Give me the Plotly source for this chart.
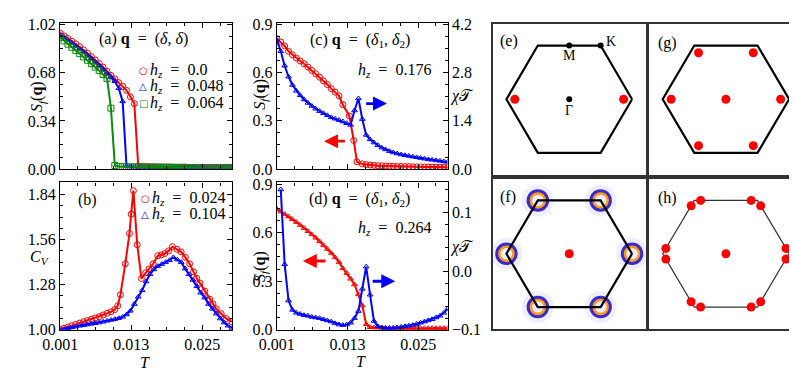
import plotly.graph_objects as go

# temperature grid shared by most curves
T = [0.00100, 0.00166, 0.00232, 0.00298, 0.00364, 0.00430, 0.00495, 0.00561, 0.00627,
     0.00693, 0.00759, 0.00825, 0.00891, 0.00957, 0.01023, 0.01089, 0.01155, 0.01220,
     0.01286, 0.01352, 0.01418, 0.01484, 0.01550, 0.01616, 0.01682, 0.01748, 0.01814,
     0.01880, 0.01945, 0.02011, 0.02077, 0.02143, 0.02209, 0.02275, 0.02341, 0.02407,
     0.02473, 0.02539, 0.02605, 0.02670, 0.02736, 0.02802, 0.02868, 0.02934, 0.03000]

# (a) S_f(q), q=(delta,delta)
sf_a_h000 = [0.960, 0.940, 0.922, 0.903, 0.884, 0.864, 0.842, 0.818, 0.794, 0.770, 0.745,
             0.720, 0.690, 0.662, 0.636, 0.610, 0.585, 0.556, 0.510, 0.462, 0.022, 0.018,
             0.017, 0.016, 0.016, 0.015, 0.015, 0.014, 0.014, 0.014, 0.013, 0.013, 0.013,
             0.012, 0.012, 0.012, 0.012, 0.011, 0.011, 0.011, 0.011, 0.010, 0.010, 0.010, 0.010]
sf_a_h048 = [0.952, 0.932, 0.913, 0.893, 0.873, 0.852, 0.830, 0.806, 0.782, 0.757, 0.732,
             0.707, 0.678, 0.650, 0.620, 0.570, 0.478, 0.022, 0.018, 0.017, 0.016, 0.016,
             0.015, 0.015, 0.015, 0.014, 0.014, 0.014, 0.013, 0.013, 0.013, 0.012, 0.012,
             0.012, 0.012, 0.011, 0.011, 0.011, 0.011, 0.010, 0.010, 0.010, 0.010, 0.010, 0.010]
sf_a_h064 = [0.930, 0.905, 0.882, 0.860, 0.838, 0.815, 0.792, 0.768, 0.744, 0.720, 0.695,
             0.668, 0.640, 0.430, 0.025, 0.018, 0.017, 0.016, 0.016, 0.015, 0.015, 0.015,
             0.014, 0.014, 0.014, 0.013, 0.013, 0.013, 0.013, 0.012, 0.012, 0.012, 0.012,
             0.011, 0.011, 0.011, 0.011, 0.011, 0.010, 0.010, 0.010, 0.010, 0.010, 0.010, 0.010]

# (b) C_V
T_b_h024 = [0.00100, 0.00166, 0.00232, 0.00298, 0.00364, 0.00430, 0.00495, 0.00561, 0.00627,
            0.00693, 0.00759, 0.00825, 0.00891, 0.00957, 0.01023, 0.01072, 0.01117, 0.01199,
            0.01270, 0.01298, 0.01336, 0.01401, 0.01472, 0.01545, 0.01599, 0.01670, 0.01747,
            0.01807, 0.01867, 0.01930, 0.01994, 0.02070, 0.02142, 0.02213, 0.02285, 0.02351,
            0.02405, 0.02460, 0.02542, 0.02625, 0.02680, 0.02735, 0.02818, 0.02900, 0.03000]
cv_b_h024 = [1.004, 1.010, 1.018, 1.026, 1.034, 1.042, 1.050, 1.058, 1.066, 1.074, 1.082,
             1.092, 1.102, 1.112, 1.126, 1.150, 1.218, 1.410, 1.598, 1.718, 1.864, 1.528,
             1.318, 1.354, 1.378, 1.410, 1.460, 1.465, 1.474, 1.490, 1.516, 1.500, 1.484,
             1.450, 1.410, 1.360, 1.320, 1.290, 1.240, 1.190, 1.160, 1.130, 1.100, 1.070, 1.050]
cv_b_h104 = [1.000, 1.004, 1.010, 1.015, 1.020, 1.025, 1.029, 1.033, 1.037, 1.041, 1.045,
             1.050, 1.056, 1.061, 1.066, 1.072, 1.080, 1.095, 1.118, 1.160, 1.205, 1.245,
             1.300, 1.345, 1.375, 1.395, 1.408, 1.420, 1.432, 1.450, 1.436, 1.420, 1.380,
             1.345, 1.310, 1.270, 1.230, 1.200, 1.160, 1.130, 1.100, 1.070, 1.045, 1.025, 1.010]

# (c) h_z = 0.176
T_c_sf = [0.00100, 0.00166, 0.00232, 0.00298, 0.00364, 0.00430, 0.00495, 0.00561, 0.00627,
          0.00693, 0.00759, 0.00825, 0.00891, 0.00957, 0.01023, 0.01089, 0.01155, 0.01220,
          0.01331, 0.01404, 0.01459,
          0.01550, 0.01616, 0.01682, 0.01748, 0.01814, 0.01880, 0.01945, 0.02011, 0.02077,
          0.02143, 0.02209, 0.02275, 0.02341, 0.02407, 0.02473, 0.02539, 0.02605, 0.02670,
          0.02736, 0.02802, 0.02868, 0.02934, 0.03000]
sf_c = [0.810, 0.790, 0.765, 0.732, 0.710, 0.690, 0.672, 0.655, 0.634, 0.613, 0.592,
        0.571, 0.548, 0.525, 0.500, 0.478, 0.455, 0.400,
        0.330, 0.178, 0.045,
        0.032, 0.028, 0.025, 0.023, 0.021, 0.020, 0.019, 0.018, 0.017, 0.016, 0.016, 0.015,
        0.015, 0.014, 0.014, 0.013, 0.013, 0.013, 0.012, 0.012, 0.012, 0.012, 0.011]
chi_c = [3.75, 3.42, 3.00, 2.68, 2.44, 2.27, 2.14, 2.02, 1.92, 1.83, 1.75, 1.68, 1.62, 1.56,
         1.50, 1.46, 1.42, 1.38, 1.33, 1.28, 1.70, 2.05, 1.45, 0.99, 0.86, 0.77, 0.69, 0.62,
         0.57, 0.52, 0.48, 0.45, 0.42, 0.40, 0.38, 0.36, 0.34, 0.32, 0.30, 0.28, 0.27, 0.25,
         0.24, 0.22, 0.21]

# (d) h_z = 0.264
sf_d = [0.745, 0.730, 0.715, 0.700, 0.683, 0.665, 0.647, 0.628, 0.609, 0.589, 0.568,
        0.546, 0.523, 0.499, 0.474, 0.447, 0.418, 0.380, 0.350, 0.315, 0.280, 0.220,
        0.150, 0.034, 0.016, 0.014, 0.013, 0.012, 0.012, 0.011, 0.011, 0.011, 0.010,
        0.010, 0.010, 0.010, 0.010, 0.010, 0.010, 0.010, 0.010, 0.010, 0.010, 0.010, 0.010]
chi_d = [0.140, 0.012, -0.050, -0.066, -0.071, -0.073, -0.075, -0.076, -0.078, -0.079,
         -0.080, -0.082, -0.084, -0.086, -0.089, -0.091, -0.092, -0.091, -0.088, -0.080,
         -0.068, -0.030, 0.008, -0.040, -0.085, -0.094, -0.096, -0.097, -0.097, -0.097,
         -0.096, -0.095, -0.094, -0.093, -0.092, -0.090, -0.088, -0.086, -0.084, -0.082,
         -0.079, -0.076, -0.071, -0.064]
T_d_chi = T[1:]

# legend rows: (label, colour, glyph)
legend_a = [("0.0", "#ff0000", "○"), ("0.048", "#0000ff", "△"), ("0.064", "#0a8a0a", "□")]
legend_b = [("0.024", "#ff0000", "○"), ("0.104", "#0000ff", "△")]

# Brillouin zone panels (K point at unit distance)
hex_x = [1, 0.5, -0.5, -1, -0.5, 0.5, 1]
hex_y = [0, 0.866, 0.866, 0, -0.866, -0.866, 0]
sym_x = [0, 0, 0.5]
sym_y = [0, 0.866, 0.866]
e_peaks_x = [-0.866, 0.866]
e_peaks_y = [0, 0]
g_peaks_x = [0, 0.866, 0.433, -0.433, -0.866, -0.433, 0.433]
g_peaks_y = [0, 0, 0.75, 0.75, 0, -0.75, -0.75]
f_center_x = [0]
f_center_y = [0]
f_blob_x = [1, 0.5, -0.5, -1, -0.5, 0.5]
f_blob_y = [0, 0.866, 0.866, 0, -0.866, -0.866]
h_peaks_x = [0, 0.95, 0.95, 0.40, 0.55, -0.40, -0.55, -0.95, -0.95, -0.40, -0.55, 0.40, 0.55]
h_peaks_y = [0, 0.087, -0.087, 0.866, 0.779, 0.866, 0.779, 0.087, -0.087, -0.866, -0.779,
             -0.866, -0.779]

RED = "#ff0000"
BLUE = "#0000ff"
GREEN = "#0a8a0a"
FONT = "Liberation Serif"
W, H = 797, 371
EQ = "\u2002=\u2002"


def px(x):
    return x / W


def py(y):
    return 1 - y / H


def hz(v):
    return "<i>h</i><sub><i>z</i></sub>" + EQ + v


fig = go.Figure()


def curve(x, y, color, symbol, xa, ya, size=6):
    fig.add_trace(go.Scatter(
        x=x, y=y, mode="lines+markers", xaxis=xa, yaxis=ya, showlegend=False,
        line=dict(color=color, width=2),
        marker=dict(symbol=symbol, size=size, color=color, line=dict(width=1, color=color))))


# (a)
curve(T, sf_a_h000, RED, "circle-open", "x", "y")
curve(T, sf_a_h048, BLUE, "triangle-up-open", "x", "y", 5)
curve(T, sf_a_h064, GREEN, "square-open", "x", "y")
# (b)
curve(T_b_h024, cv_b_h024, RED, "circle-open", "x2", "y2")
curve(T, cv_b_h104, BLUE, "triangle-up-open", "x2", "y2", 5)
# (c)
curve(T_c_sf, sf_c, RED, "circle-open", "x3", "y3")
curve(T, chi_c, BLUE, "triangle-up-open", "x3", "y4", 5)
# (d)
curve(T, sf_d, RED, "triangle-up-open", "x4", "y5", 5)
curve(T_d_chi, chi_d, BLUE, "triangle-up-open", "x4", "y6", 5)


def bz_line(xa, ya, width=2.2, color="black"):
    fig.add_trace(go.Scatter(x=hex_x, y=hex_y, mode="lines", xaxis=xa, yaxis=ya,
                             showlegend=False, line=dict(color=color, width=width)))


def dots(x, y, xa, ya, color=RED, size=9):
    fig.add_trace(go.Scatter(x=x, y=y, mode="markers", xaxis=xa, yaxis=ya, showlegend=False,
                             marker=dict(color=color, size=size, line=dict(width=0))))


# (e)
bz_line("x5", "y7")
dots(e_peaks_x, e_peaks_y, "x5", "y7")
dots(sym_x, sym_y, "x5", "y7", "black", 6)
# (g)
bz_line("x6", "y8")
dots(g_peaks_x, g_peaks_y, "x6", "y8")
# (f)
fig.add_trace(go.Scatter(x=f_blob_x, y=f_blob_y, mode="markers", xaxis="x7", yaxis="y9",
                         showlegend=False,
                         marker=dict(size=32, color="rgba(120,120,255,0.13)", line=dict(width=0))))
fig.add_trace(go.Scatter(x=f_blob_x, y=f_blob_y, mode="markers", xaxis="x7", yaxis="y9",
                         showlegend=False,
                         marker=dict(symbol="circle-open", size=19, color="#3a2ad0",
                                     line=dict(width=3.5, color="#3a2ad0"))))
fig.add_trace(go.Scatter(x=f_blob_x, y=f_blob_y, mode="markers", xaxis="x7", yaxis="y9",
                         showlegend=False,
                         marker=dict(symbol="circle-open", size=14, color="#ff9a1a",
                                     line=dict(width=2.5, color="#ff9a1a"))))
bz_line("x7", "y9")
dots(f_center_x, f_center_y, "x7", "y9")
# (h)
bz_line("x8", "y10", 1.2, "#333333")
dots(h_peaks_x, h_peaks_y, "x8", "y10")

tickfont = dict(family=FONT, size=16, color="black")


def xaxis(domain, labels, anchor):
    return dict(domain=domain, anchor=anchor, range=[0.001, 0.030],
                tickvals=[0.001, 0.013, 0.025], tickformat=".3f", showticklabels=labels,
                ticks="inside", ticklen=5, tickcolor="black", showline=True, linecolor="black",
                linewidth=1.3, mirror="ticks", showgrid=False, zeroline=False, tickfont=tickfont,
                minor=dict(tick0=0.001, dtick=0.003, ticks="inside", ticklen=3,
                           tickcolor="black", showgrid=False))


def yaxis(domain, anchor, rng, vals, fmt, mdt, mirror="ticks", side="left", overlaying=None):
    d = dict(domain=domain, anchor=anchor, range=rng, tickvals=vals, tickformat=fmt,
             ticks="inside", ticklen=5, tickcolor="black", showline=True, linecolor="black",
             linewidth=1.3, mirror=mirror, side=side, showgrid=False, zeroline=False,
             tickfont=tickfont,
             minor=dict(tick0=vals[0], dtick=mdt, ticks="inside", ticklen=3,
                        tickcolor="black", showgrid=False))
    if overlaying:
        d["overlaying"] = overlaying
    return d


def bz_axis(domain, anchor):
    return dict(domain=domain, anchor=anchor, range=[-1.22, 1.22], showline=True,
                linecolor="#333333", linewidth=2, mirror=True, showticklabels=False,
                ticks="", showgrid=False, zeroline=False)


dx_left = [px(35), px(211)]
dx_mid = [px(257), px(432)]
dy_top = [py(161), py(8)]
dy_bot = [py(329), py(175)]

layout = dict(
    width=W, height=H, margin=dict(l=0, r=0, t=0, b=0),
    paper_bgcolor="white", plot_bgcolor="white", showlegend=False,
    font=dict(family=FONT, size=16, color="black"),
    xaxis=xaxis(dx_left, False, "y"),
    yaxis=yaxis(dy_top, "x", [0, 1.034], [0, 0.34, 0.68, 1.02], ".2f", 0.085),
    xaxis2=xaxis(dx_left, True, "y2"),
    yaxis2=yaxis(dy_bot, "x2", [1.0, 1.915], [1.0, 1.28, 1.56, 1.84], ".2f", 0.07),
    xaxis3=xaxis(dx_mid, False, "y3"),
    yaxis3=yaxis(dy_top, "x3", [0, 0.91], [0, 0.3, 0.6, 0.9], ".1f", 0.075, mirror=False),
    yaxis4=yaxis(dy_top, "x3", [0, 4.25], [0, 1.4, 2.8, 4.2], ".1f", 0.35, mirror=False,
                 side="right", overlaying="y3"),
    xaxis4=xaxis(dx_mid, True, "y5"),
    yaxis5=yaxis(dy_bot, "x4", [0, 0.91], [0, 0.3, 0.6, 0.9], ".1f", 0.075, mirror=False),
    yaxis6=yaxis(dy_bot, "x4", [-0.1, 0.152], [-0.1, 0.0, 0.1], ".1f", 0.02, mirror=False,
                 side="right", overlaying="y5"),
    xaxis5=bz_axis([px(478), px(635)], "y7"),
    yaxis7=bz_axis([py(167), py(9)], "x5"),
    xaxis6=bz_axis([px(638), px(796)], "y8"),
    yaxis8=bz_axis([py(167), py(9)], "x6"),
    xaxis7=bz_axis([px(478), px(635)], "y9"),
    yaxis9=bz_axis([py(328), py(171)], "x7"),
    xaxis8=bz_axis([px(638), px(796)], "y10"),
    yaxis10=bz_axis([py(328), py(171)], "x8"),
)
fig.update_layout(**layout)

notes = [
    ("(a) <b>q</b>" + EQ + "(<i>δ</i>, <i>δ</i>)", 120, 25, 0),
    ("(b)", 63, 193, 0),
    ("(c) <b>q</b>" + EQ + "(<i>δ</i><sub>1</sub>, <i>δ</i><sub>2</sub>)", 342, 27, 0),
    (hz("0.176"), 377, 58, 0),
    ("(d) <b>q</b>" + EQ + "(<i>δ</i><sub>1</sub>, <i>δ</i><sub>2</sub>)", 342, 193, 0),
    (hz("0.264"), 377, 223, 0),
    ("<i>S</i><sub><i>f</i></sub>(<b>q</b>)", 12, 85, -90),
    ("<i>C</i><sub><i>V</i></sub>", 14, 253, 0),
    ("<i>S</i><sub><i>f</i></sub>(<b>q</b>)", 240, 83, -90),
    ("<i>S</i><sub><i>f</i></sub>(<b>q</b>)", 240, 263, -90),
    ("<i>χ</i>𝒯", 447, 85, 0),
    ("<i>χ</i>𝒯", 447, 242, 0),
    ("<i>T</i>", 122, 363, 0),
    ("<i>T</i>", 343, 362, 0),
    ("(e)", 495, 27, 0),
    ("(g)", 657, 29, 0),
    ("(f)", 494, 190, 0),
    ("(h)", 657, 191, 0),
]
for text, x, y, ang in notes:
    fig.add_annotation(text=text, x=px(x), y=py(y), xref="paper", yref="paper",
                       showarrow=False, textangle=ang, xanchor="center", yanchor="middle",
                       font=dict(family=FONT, size=16, color="black"))

# legends drawn as text rows: symbol glyph then label
for rows, x0, y0 in [(legend_a, 120, 58), (legend_b, 122, 192)]:
    for k, (lab, col, glyph) in enumerate(rows):
        yy = y0 + 17 * k
        fig.add_annotation(text=glyph, x=px(x0), y=py(yy), xref="paper", yref="paper",
                           showarrow=False, xanchor="center", yanchor="middle",
                           font=dict(family="DejaVu Sans", size=10, color=col))
        fig.add_annotation(text=hz(lab), x=px(x0 + 5), y=py(yy), xref="paper", yref="paper",
                           showarrow=False, xanchor="left", yanchor="middle",
                           font=dict(family=FONT, size=16, color="black"))

for text, x, y in [("M", 0, 0.71), ("K", 0.66, 0.93), ("Γ", 0, -0.19)]:
    fig.add_annotation(text=text, x=x, y=y, xref="x5", yref="y7", showarrow=False,
                       font=dict(family=FONT, size=14, color="black"))

arrows = [
    ("x3", "y4", 0.0197, 0.0159, 1.90, BLUE),
    ("x3", "y3", 0.0090, 0.0128, 0.173, RED),
    ("x4", "y5", 0.0054, 0.0095, 0.425, RED),
    ("x4", "y6", 0.0211, 0.0170, -0.017, BLUE),
]
for xa, ya, head, tail, yv, col in arrows:
    fig.add_annotation(x=head, y=yv, ax=tail, ay=yv, xref=xa, yref=ya, axref=xa, ayref=ya,
                       text="", showarrow=True, arrowhead=2, arrowsize=1, arrowwidth=2.8,
                       arrowcolor=col)

fig.write_html("out.html")
